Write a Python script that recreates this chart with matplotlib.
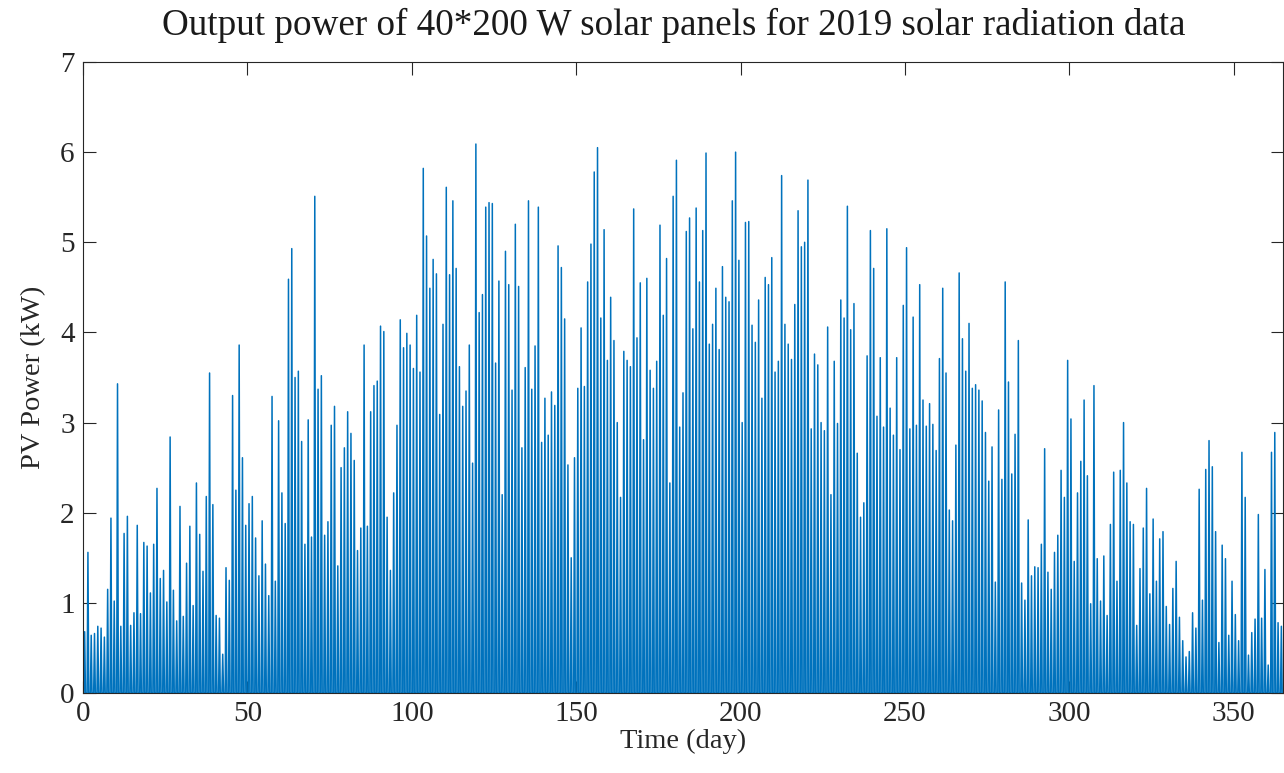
import numpy as np
import matplotlib.pyplot as plt

plt.rcParams['font.family'] = ['Liberation Serif', 'DejaVu Serif']

# daily peak PV output (kW) for each month of 2019
jan = [0.68, 1.56, 0.64, 0.66, 0.74, 0.72, 0.62, 1.15, 1.94, 1.02, 3.43, 0.74, 1.77, 1.96, 0.75, 0.89,
       1.86, 0.88, 1.67, 1.63, 1.11, 1.65, 2.27, 1.27, 1.36, 1.01, 2.84, 1.14, 0.80, 2.07, 0.85]
feb = [1.44, 1.85, 0.97, 2.33, 1.76, 1.35, 2.18, 3.55, 2.09, 0.86, 0.83, 0.43, 1.39, 1.25, 3.30, 2.25,
       3.86, 2.61, 1.86, 2.10, 2.18, 1.72, 1.30, 1.91, 1.43, 1.08, 3.29, 1.24]
mar = [3.02, 2.22, 1.88, 4.59, 4.93, 3.50, 3.57, 2.79, 1.65, 3.03, 1.73, 5.51, 3.37, 3.52, 1.75, 1.90,
       2.97, 3.18, 1.41, 2.50, 2.72, 3.12, 2.88, 2.58, 1.58, 1.83, 3.86, 1.85, 3.12, 3.41, 3.46]
apr = [4.07, 4.01, 1.95, 1.36, 2.22, 2.97, 4.14, 3.83, 3.99, 3.86, 3.60, 4.19, 3.56, 5.82, 5.07, 4.49,
       4.81, 4.65, 3.09, 4.09, 5.61, 4.64, 5.46, 4.71, 3.62, 3.18, 3.35, 3.86, 2.55, 6.09]
may = [4.22, 4.42, 5.39, 5.44, 5.43, 3.66, 4.57, 2.20, 4.90, 4.53, 3.36, 5.20, 4.51, 2.72, 3.61, 5.46,
       3.37, 3.85, 5.39, 2.78, 3.27, 2.86, 3.34, 3.19, 4.96, 4.72, 4.15, 2.53, 1.50, 2.61, 3.38]
jun = [4.05, 3.40, 4.56, 4.98, 5.78, 6.05, 4.16, 5.14, 3.69, 4.39, 3.91, 3.00, 2.17, 3.79, 3.69, 3.62,
       5.37, 3.94, 4.55, 2.81, 4.60, 3.58, 3.38, 3.68, 5.19, 4.19, 4.82, 2.33, 5.51, 5.91]
jul = [2.95, 3.33, 5.12, 5.27, 4.04, 5.38, 4.56, 5.13, 5.99, 3.87, 4.09, 4.49, 3.81, 4.73, 4.39, 4.34,
       5.46, 6.00, 4.80, 3.00, 5.22, 5.23, 4.08, 3.89, 4.36, 3.27, 4.61, 4.53, 4.83, 3.56, 3.68]
aug = [5.74, 4.09, 3.87, 3.70, 4.31, 5.35, 4.95, 5.00, 5.69, 2.93, 3.76, 3.64, 3.00, 2.91, 4.06, 2.20,
       3.68, 2.99, 4.36, 4.16, 5.40, 4.03, 4.32, 2.66, 1.95, 2.11, 3.74, 5.13, 4.71, 3.07, 3.72]
sep = [2.95, 5.15, 3.16, 2.86, 3.72, 2.70, 4.30, 4.94, 2.93, 4.17, 2.97, 4.53, 3.25, 2.96, 3.21, 2.98,
       2.69, 3.71, 4.49, 3.55, 2.03, 1.91, 2.75, 4.66, 3.93, 3.57, 4.10, 3.38, 3.42, 3.36]
oct_ = [3.24, 2.89, 2.35, 2.73, 1.23, 3.14, 2.37, 4.56, 3.45, 2.43, 2.87, 3.91, 1.22, 1.03, 1.92, 1.30,
        1.40, 1.39, 1.65, 2.71, 1.34, 1.15, 1.56, 1.75, 2.47, 2.17, 3.69, 3.04, 1.46, 2.22, 2.57]
nov = [3.25, 2.41, 0.99, 3.41, 1.49, 1.02, 1.52, 0.86, 1.87, 2.45, 1.24, 2.47, 3.00, 2.33, 1.90, 1.87,
       0.75, 1.38, 1.83, 2.27, 1.10, 1.93, 1.24, 1.71, 1.79, 0.96, 0.76, 1.16, 1.46, 0.84]
dec = [0.58, 0.40, 0.46, 0.89, 0.72, 2.26, 1.03, 2.48, 2.80, 2.51, 1.79, 0.56, 1.64, 1.49, 0.64, 1.24,
       0.87, 0.58, 2.67, 2.17, 0.42, 0.67, 0.82, 1.98, 0.83, 1.37, 0.31, 2.67, 2.89, 0.78, 0.74]

peak = np.array(jan + feb + mar + apr + may + jun + jul + aug + sep + oct_ + nov + dec)
days = np.arange(len(peak))

# each day: zero at sunrise, peak at midday, zero at sunset
t = np.column_stack([days + 0.25, days + 0.5, days + 0.75]).ravel()
p = np.column_stack([np.zeros_like(peak), peak, np.zeros_like(peak)]).ravel()

fig = plt.figure(figsize=(12.84, 7.73), dpi=100)
ax = fig.add_axes([83 / 1284, 80 / 773, 1200 / 1284, 631 / 773])
ax.plot(t, p, color='#0072BD', linewidth=1.1)

ax.set_xlim(0, 365)
ax.set_ylim(0, 7)
ax.set_xticks(np.arange(0, 351, 50))
ax.set_yticks(np.arange(0, 8, 1))
ax.tick_params(direction='in', length=9, width=0.8, top=True, right=True,
               labelsize=21, colors='#262626', pad=6)
for s in ax.spines.values():
    s.set_color('#262626')
    s.set_linewidth(0.8)

ax.set_xlabel('Time (day)', fontsize=20.5, color='#262626', labelpad=1)
ax.set_ylabel('PV Power (kW)', fontsize=20.5, color='#262626', labelpad=10)

fig.text(674 / 1284, 1 - 25 / 773, 'Output power of 40*200 W solar panels for 2019 solar radiation data',
         ha='center', va='center', fontsize=26.7, color='#1a1a1a')

plt.savefig('out.png', dpi=100)
